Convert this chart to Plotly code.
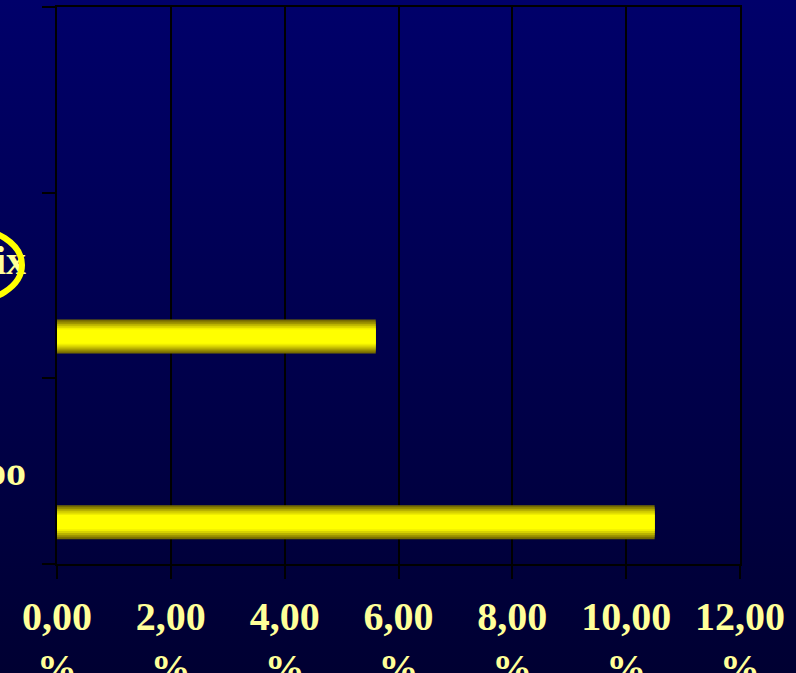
import base64
import plotly.graph_objects as go

# Share of respondents per platform
categories = ["Yahoo", "Unix", "\u00a0"]
values = [10.5, 5.6, None]
# Displayed category labels (the middle one wraps onto a second, blank line)
cat_labels = ["Yahoo", "Unix<br>\u00a0", "\u00a0"]

tick_vals = [0, 2, 4, 6, 8, 10, 12]
tick_text = ["0,00<br>%", "2,00<br>%", "4,00<br>%", "6,00<br>%",
             "8,00<br>%", "10,00<br>%", "12,00<br>%"]

W, H = 796, 673
ML, MR, MT, MB = 57, 56, 7, 109
PW, PH = W - ML - MR, H - MT - MB


def px_x(x):
    return (x - ML) / PW


def px_y(y):
    return (H - MB - y) / PH


LABEL_COLOR = "#FFFF99"
FONT = "Liberation Serif, Times New Roman, serif"

# Vertical gradient for the slide background
svg = (
    '<svg xmlns="http://www.w3.org/2000/svg" width="10" height="100" '
    'preserveAspectRatio="none">'
    '<defs><linearGradient id="g" x1="0" y1="0" x2="0" y2="1">'
    '<stop offset="0" stop-color="#00006A"/>'
    '<stop offset="1" stop-color="#000032"/>'
    '</linearGradient></defs>'
    '<rect width="10" height="100" fill="url(#g)"/></svg>'
)
bg_uri = "data:image/svg+xml;base64," + base64.b64encode(svg.encode()).decode()

fig = go.Figure()

# Bars built from nested layers to give a cylindrical shading
bar_center = -0.275
bar_width = 0.183
layers = [
    (1.00, "rgb(118,108,0)"),
    (0.88, "rgb(150,140,0)"),
    (0.76, "rgb(185,178,0)"),
    (0.64, "rgb(215,210,0)"),
    (0.52, "rgb(240,238,0)"),
    (0.42, "rgb(255,255,0)"),
]
for frac, color in layers:
    w = bar_width * frac
    fig.add_trace(go.Bar(
        x=values, y=categories, orientation="h",
        width=w, offset=bar_center - w / 2,
        marker=dict(color=color, line=dict(width=0)),
        hoverinfo="skip", showlegend=False,
    ))

fig.update_layout(
    width=W, height=H,
    margin=dict(l=ML, r=MR, t=MT, b=MB, pad=0, autoexpand=False),
    paper_bgcolor="#000050",
    plot_bgcolor="rgba(0,0,0,0)",
    barmode="overlay",
    showlegend=False,
    font=dict(family=FONT, color=LABEL_COLOR),
    images=[dict(
        source=bg_uri, xref="paper", yref="paper",
        x=px_x(0), y=px_y(0), sizex=W / PW, sizey=H / PH,
        xanchor="left", yanchor="top", sizing="stretch", layer="below",
    )],
    shapes=[dict(
        type="circle", xref="paper", yref="paper",
        x0=px_x(-95), x1=px_x(22), y0=px_y(303), y1=px_y(227),
        line=dict(color="#FFFF00", width=6), layer="above",
    )],
)

tick_font = dict(family=FONT, size=40, color=LABEL_COLOR, weight="bold")

fig.update_xaxes(
    range=[0, 12], tickvals=tick_vals, ticktext=tick_text,
    showgrid=True, gridcolor="black", gridwidth=2,
    showline=True, linecolor="black", linewidth=2, mirror=True,
    ticks="outside", ticklen=13, tickwidth=2, tickcolor="black",
    tickfont=tick_font, automargin=False,
    ticklabelstandoff=3, zeroline=False, fixedrange=True,
)
fig.update_yaxes(
    type="category", categoryorder="array", categoryarray=categories,
    tickvals=categories, ticktext=cat_labels,
    range=[-0.5, 2.5], tickson="boundaries",
    showgrid=False, showline=True, linecolor="black", linewidth=2, mirror=True,
    ticks="outside", ticklen=13, tickwidth=2, tickcolor="black",
    tickfont=tick_font, automargin=False,
    ticklabelstandoff=21, zeroline=False, fixedrange=True,
)

fig.write_html("out.html")
